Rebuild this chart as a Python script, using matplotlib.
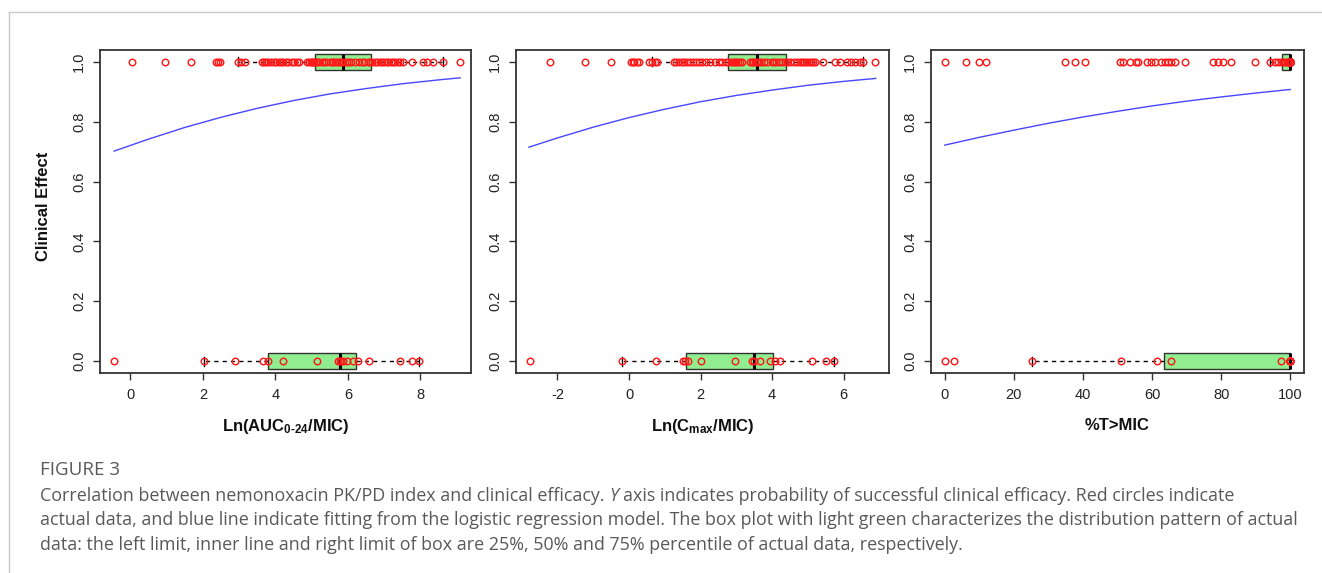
import numpy as np
import matplotlib.pyplot as plt
from matplotlib.lines import Line2D

plt.rcParams['font.family'] = ['Liberation Sans', 'DejaVu Sans']
plt.rcParams['mathtext.fontset'] = 'custom'
for k in ('rm', 'it', 'bf', 'sf'):
    plt.rcParams['mathtext.' + k] = 'Liberation Sans:bold'

# ---- values ----
# panel 1: Ln(AUC0-24/MIC)
auc_success = [0.05, 0.95, 1.68, 2.37, 2.42, 2.47, 2.97, 3.05, 3.16,
               3.62, 3.68, 3.75, 3.80, 3.88, 3.95, 4.02, 4.10, 4.15, 4.22, 4.28,
               4.35, 4.45, 4.52, 4.59, 4.65, 4.88, 4.93, 4.98, 5.02, 5.05, 5.08,
               5.12, 5.15, 5.20, 5.30, 5.35, 5.41, 5.50, 5.55, 5.60, 5.65, 5.70,
               5.75, 5.80, 5.85, 5.92, 5.97, 6.03, 6.10, 6.20, 6.30, 6.38, 6.45,
               6.55, 6.61, 6.68, 6.75, 6.80, 6.88, 6.95, 7.00, 7.08, 7.12, 7.18,
               7.25, 7.30, 7.38, 7.45, 7.52, 7.76, 8.08, 8.19, 8.36, 8.63, 9.10]
auc_failure = [-0.45, 2.02, 2.88, 3.66, 3.80, 4.22, 5.15, 5.74, 5.78, 5.82,
               5.87, 5.98, 6.13, 6.29, 6.58, 7.44, 7.76, 7.96]
# whisker low, q1, median, q3, whisker high
auc_box_success = [2.97, 5.09, 5.88, 6.63, 8.63]
auc_box_failure = [2.02, 3.81, 5.78, 6.22, 7.96]
auc_curve_x = [-0.45, 0.5, 1.5, 2.5, 3.5, 4.5, 5.5, 6.5, 7.5, 8.5, 9.1]
auc_curve_p = [0.702, 0.742, 0.781, 0.815, 0.845, 0.871, 0.893, 0.911, 0.927, 0.940, 0.947]

# panel 2: Ln(Cmax/MIC)
cmax_success = [-2.22, -1.24, -0.51, 0.05, 0.10, 0.15, 0.22, 0.28, 0.55, 0.63, 0.72, 0.77,
                1.25, 1.32, 1.40, 1.48, 1.55, 1.62, 1.70, 1.79, 1.88, 1.95, 2.05, 2.15,
                2.27, 2.41, 2.52, 2.60, 2.70, 2.78, 2.85, 2.90, 2.95, 3.00, 3.05, 3.10,
                3.16, 3.38, 3.43, 3.48, 3.52, 3.58, 3.63, 3.70, 3.78, 3.85, 3.99, 4.05,
                4.12, 4.20, 4.28, 4.35, 4.42, 4.50, 4.60, 4.70, 4.78, 4.84, 4.90, 4.96,
                5.02, 5.08, 5.14, 5.20, 5.43, 5.76, 5.90, 6.09, 6.20, 6.32, 6.45, 6.55, 6.87]
cmax_failure = [-2.77, -0.20, 0.76, 1.50, 1.56, 1.66, 2.00, 2.96, 3.43, 3.50,
                3.66, 3.94, 4.08, 4.22, 5.13, 5.51, 5.73]
cmax_box_success = [0.63, 2.78, 3.57, 4.39, 6.55]
cmax_box_failure = [-0.20, 1.60, 3.50, 4.02, 5.73]
cmax_curve_x = [-2.8, -2, -1, 0, 1, 2, 3, 4, 5, 6, 6.9]
cmax_curve_p = [0.715, 0.746, 0.782, 0.814, 0.842, 0.867, 0.888, 0.906, 0.922, 0.935, 0.945]

# panel 3: %T>MIC
tmic_success = [0, 6, 9.8, 12, 34.7, 37.6, 40.7, 50.6, 51.6, 53.5, 55.5, 56, 58.4,
                59.8, 60.8, 62.7, 63.7, 64.6, 65.6, 66.6, 69.5, 77.7, 79.1, 80.6, 83,
                89.8, 94.3, 95.6, 96.5, 97.2, 97.8, 98.4, 99, 99.5] + [100] * 40
tmic_failure = [0, 2.7, 25.2, 50.9, 61.3, 65.6, 97.3] + [100] * 12
tmic_box_success = [94.3, 97.5, 100, 100, 100]
tmic_box_failure = [25.2, 63.5, 100, 100, 100]
tmic_curve_x = [0, 10, 20, 30, 40, 50, 60, 70, 80, 90, 100]
tmic_curve_p = [0.722, 0.748, 0.772, 0.795, 0.816, 0.835, 0.853, 0.869, 0.883, 0.896, 0.908]

panels = [
    dict(succ=auc_success, fail=auc_failure, box1=auc_box_success, box0=auc_box_failure,
         cx=auc_curve_x, cp=auc_curve_p, xlim=(-0.84, 9.4), xticks=[0, 2, 4, 6, 8],
         xlabel=r'$Ln(AUC_{0\text{-}24}/MIC)$', left=100, right=471),
    dict(succ=cmax_success, fail=cmax_failure, box1=cmax_box_success, box0=cmax_box_failure,
         cx=cmax_curve_x, cp=cmax_curve_p, xlim=(-3.16, 7.27), xticks=[-2, 0, 2, 4, 6],
         xlabel=r'$Ln(C_{max}/MIC)$', left=516, right=889),
    dict(succ=tmic_success, fail=tmic_failure, box1=tmic_box_success, box0=tmic_box_failure,
         cx=tmic_curve_x, cp=tmic_curve_p, xlim=(-4, 104), xticks=[0, 20, 40, 60, 80, 100],
         xlabel='%T>MIC', left=931, right=1304),
]

W, H = 1322, 573
fig = plt.figure(figsize=(W / 100, H / 100), dpi=100)
fig.patch.set_facecolor('white')

top_px, bot_px = 50, 373


def box_stats(vals):
    lo, q1, med, q3, hi = vals
    return dict(whislo=lo, q1=q1, med=med, q3=q3, whishi=hi, fliers=[])


for p in panels:
    ax = fig.add_axes([p['left'] / W, 1 - bot_px / H,
                       (p['right'] - p['left']) / W, (bot_px - top_px) / H])
    ax.bxp([box_stats(p['box0']), box_stats(p['box1'])], positions=[0, 1],
           widths=0.055, capwidths=0.03, orientation='horizontal',
           patch_artist=True, showfliers=False, manage_ticks=False,
           boxprops=dict(facecolor='#90ee90', edgecolor='#333333', linewidth=1),
           medianprops=dict(color='black', linewidth=2.2),
           whiskerprops=dict(color='black', linewidth=1, linestyle=(0, (3, 3))),
           capprops=dict(color='black', linewidth=1))
    for vals, yv in ((p['succ'], 1), (p['fail'], 0)):
        ax.plot(vals, [yv] * len(vals), 'o', mfc='none', mec='#ff1a1a', ms=4.7,
                mew=1.05, zorder=4)
    ax.plot(p['cx'], p['cp'], color='#4747ff', lw=1.0, zorder=3)

    ax.set_xlim(*p['xlim'])
    ax.set_ylim(-0.04, 1.04)
    ax.set_xticks(p['xticks'])
    ax.set_xticklabels([str(t) for t in p['xticks']])
    ax.set_yticks([0, 0.2, 0.4, 0.6, 0.8, 1.0])
    ax.set_yticklabels(['0.0', '0.2', '0.4', '0.6', '0.8', '1.0'])
    ax.tick_params(axis='both', direction='out', length=5, width=1,
                   color='#333333', labelcolor='#222222', labelsize=10.5)
    ax.tick_params(axis='x', pad=6)
    ax.tick_params(axis='y', pad=5, labelrotation=90)
    for lab in ax.get_yticklabels():
        lab.set_verticalalignment('center')
    for s in ax.spines.values():
        s.set_color('#333333')
        s.set_linewidth(1.3)

    ax.set_xlabel(p['xlabel'], fontsize=12, fontweight='bold', color='#111111')
    ax.xaxis.set_label_coords(0.5, -(426 - bot_px) / (bot_px - top_px))
    ax.xaxis.label.set_verticalalignment('center')

fig.text(43 / W, 1 - 206 / H, 'Clinical Effect', rotation=90, fontsize=12,
         fontweight='bold', ha='center', va='center', color='#111111')

# card border
fig.add_artist(Line2D([9 / W, 1], [1 - 12 / H] * 2, color='#c8c8c8', lw=1,
                      transform=fig.transFigure))
fig.add_artist(Line2D([9 / W] * 2, [0, 1 - 12 / H], color='#c8c8c8', lw=1,
                      transform=fig.transFigure))

# caption
cap_x = 40
cap_font = dict(family='Open Sans', color='#595959', va='center')
fig.text(cap_x / W, 1 - 470 / H, 'FIGURE 3', fontsize=13.5, **cap_font)

renderer = fig.canvas.get_renderer()


def width_of(s, **kw):
    t = fig.text(0, 0, s, **kw)
    w = t.get_window_extent(renderer).width
    t.remove()
    return w


cap_size = 12.9
space_w = width_of('a a', fontsize=cap_size, **cap_font) - width_of('aa', fontsize=cap_size, **cap_font)

line1 = [('Correlation between nemonoxacin PK/PD index and clinical efficacy.', 'normal'),
         ('Y', 'italic'),
         ('axis indicates probability of successful clinical efficacy. Red circles indicate', 'normal')]
x = cap_x
for s, st in line1:
    t = fig.text(x / W, 1 - 496 / H, s, fontsize=cap_size, style=st, **cap_font)
    x += t.get_window_extent(renderer).width + space_w

fig.text(cap_x / W, 1 - 520 / H,
         'actual data, and blue line indicate fitting from the logistic regression model. '
         'The box plot with light green characterizes the distribution pattern of actual',
         fontsize=cap_size, **cap_font)
fig.text(cap_x / W, 1 - 545 / H,
         'data: the left limit, inner line and right limit of box are 25%, 50% and 75% '
         'percentile of actual data, respectively.',
         fontsize=cap_size, **cap_font)

fig.savefig('out.png', dpi=100, facecolor='white')
